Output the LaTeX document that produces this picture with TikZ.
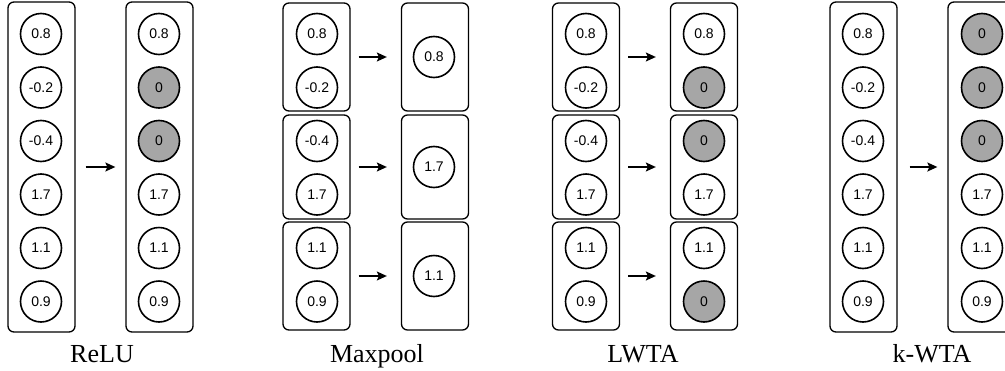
\documentclass[tikz,border=0pt]{standalone}
\usepackage{fontspec}
\setmainfont{Liberation Serif}
\setsansfont{Liberation Sans}
\usepackage{xcolor}
\usetikzlibrary{arrows.meta}

\begin{document}
\begin{tikzpicture}[x=1pt, y=-1pt,
    unit/.style={circle, draw, line width=1.6pt, minimum size=41pt, inner sep=0pt,
      font=\sffamily\fontsize{14}{16}\selectfont},
    zero/.style={unit, fill=black!35},
    layer/.style={draw, line width=1.3pt, rounded corners=6pt, minimum width=67pt, inner sep=0pt},
    map/.style={-{Stealth[length=10pt, width=9pt, inset=2pt]}, line width=1.4pt,
      shorten <=10pt, shorten >=10pt},
    caption/.style={anchor=base, font=\fontsize{26}{30}\selectfont}]
        \useasboundingbox (0,0) rectangle (1005,370);
        \clip (0,0) rectangle (1005,370);

        % ReLU
        \node[layer, minimum height=330pt] (reluin) at (41.5,167) {};
        \node[layer, minimum height=330pt] (reluout) at (159.5,167) {};
        \foreach \v [count=\i] in {0.8,-0.2,-0.4,1.7,1.1,0.9}
          \node[unit] (reluin\i) at (41,{34+53.5*(\i-1)}) {\v};
        \foreach \v/\s [count=\i] in {0.8/unit,0/zero,0/zero,1.7/unit,1.1/unit,0.9/unit}
          \node[\s] (reluout\i) at (159,{34+53.5*(\i-1)}) {\v};
        \draw[map] (reluin) -- (reluout);
        \node[caption] (relu) at (102,362) {ReLU};

        % Maxpool
        \foreach \c/\h/\a/\b/\m [count=\g] in {57/108/0.8/-0.2/0.8, 167/104/-0.4/1.7/1.7, 276/108/1.1/0.9/1.1} {
          \node[layer, minimum height=\h pt] (poolin\g) at (316.5,\c) {};
          \node[layer, minimum height=\h pt] (poolout\g) at (435,\c) {};
          \node[unit] (poolin\g a) at (317,{34+107*(\g-1)}) {\a};
          \node[unit] (poolin\g b) at (317,{87.5+107*(\g-1)}) {\b};
          \node[unit] (poolout\g m) at (434,\c) {\m};
          \draw[map, shorten <=8pt, shorten >=14pt] (poolin\g) -- (poolout\g);
        }
        \node[caption] (maxpool) at (377,362) {Maxpool};

        % LWTA
        \foreach \c/\h/\a/\b/\p/\q/\s/\t [count=\g] in
            {57/108/0.8/-0.2/0.8/0/unit/zero, 167/104/-0.4/1.7/0/1.7/zero/unit, 276/108/1.1/0.9/1.1/0/unit/zero} {
          \node[layer, minimum height=\h pt] (lwtain\g) at (586,\c) {};
          \node[layer, minimum height=\h pt] (lwtaout\g) at (704,\c) {};
          \node[unit] (lwtain\g a) at (586,{34+107*(\g-1)}) {\a};
          \node[unit] (lwtain\g b) at (586,{87.5+107*(\g-1)}) {\b};
          \node[\s] (lwtaout\g a) at (704,{34+107*(\g-1)}) {\p};
          \node[\t] (lwtaout\g b) at (704,{87.5+107*(\g-1)}) {\q};
          \draw[map, shorten <=8pt, shorten >=14pt] (lwtain\g) -- (lwtaout\g);
        }
        \node[caption] (lwta) at (643,362) {LWTA};

        % k-WTA
        \node[layer, minimum height=330pt] (kwtain) at (863.5,167) {};
        \node[layer, minimum height=330pt] (kwtaout) at (981.5,167) {};
        \foreach \v [count=\i] in {0.8,-0.2,-0.4,1.7,1.1,0.9}
          \node[unit] (kwtain\i) at (863,{34+53.5*(\i-1)}) {\v};
        \foreach \v/\s [count=\i] in {0/zero,0/zero,0/zero,1.7/unit,1.1/unit,0.9/unit}
          \node[\s] (kwtaout\i) at (982,{34+53.5*(\i-1)}) {\v};
        \draw[map, shorten <=12pt] (kwtain) -- (kwtaout);
        \node[caption] (kwta) at (932,362) {k-WTA};
\end{tikzpicture}
\end{document}
